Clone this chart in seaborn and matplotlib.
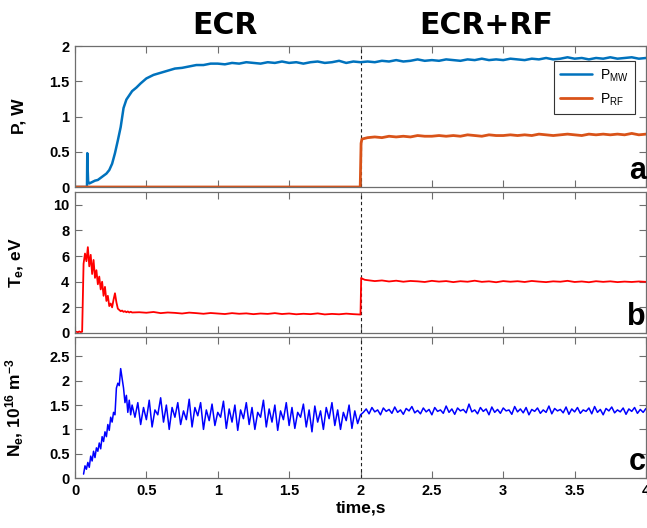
import numpy as np
import pandas as pd
import matplotlib
matplotlib.use("Agg")
import matplotlib.pyplot as plt
import seaborn as sns

# ---------------- data ----------------
# Panel a: microwave power P_MW
t_pmw_start = [0.0, 0.084, 0.086, 0.088, 0.092, 0.10, 0.12, 0.14, 0.16, 0.18,
               0.20, 0.22, 0.24, 0.26, 0.28, 0.30, 0.32, 0.34, 0.36, 0.38,
               0.40, 0.43, 0.46, 0.50, 0.55, 0.60, 0.65, 0.70, 0.75, 0.80,
               0.85, 0.90, 0.95, 1.00]
p_mw_start = [0.0, 0.0, 0.48, 0.30, 0.08, 0.05, 0.07, 0.09, 0.10, 0.13,
              0.16, 0.19, 0.24, 0.33, 0.48, 0.66, 0.85, 1.12, 1.24, 1.30,
              1.36, 1.41, 1.47, 1.54, 1.59, 1.62, 1.65, 1.68, 1.69, 1.71,
              1.73, 1.73, 1.75, 1.75]
p_mw_rest = [1.74, 1.76, 1.75, 1.77, 1.76, 1.75, 1.77, 1.76, 1.78, 1.76,
             1.77, 1.75, 1.77, 1.78, 1.76, 1.77, 1.79, 1.76, 1.78, 1.77,
             1.78, 1.77, 1.79, 1.78, 1.80, 1.78, 1.79, 1.81, 1.79, 1.80,
             1.79, 1.81, 1.80, 1.79, 1.81, 1.80, 1.82, 1.80, 1.81, 1.80,
             1.82, 1.81, 1.80, 1.82, 1.81, 1.83, 1.81, 1.82, 1.84, 1.82,
             1.83, 1.81, 1.83, 1.82, 1.84, 1.82, 1.83, 1.84, 1.82, 1.83]  # 1.05..4.00

# Panel a: RF power P_RF
t_prf_start = [0.0, 1.998, 2.004, 2.01, 2.03]
p_rf_start = [0.0, 0.0, 0.62, 0.68, 0.69]
p_rf_rest = [0.70, 0.71, 0.70, 0.72, 0.71, 0.72, 0.71, 0.73, 0.72, 0.72,
             0.73, 0.72, 0.73, 0.72, 0.74, 0.73, 0.72, 0.74, 0.73, 0.73,
             0.74, 0.73, 0.74, 0.73, 0.75, 0.74, 0.73, 0.74, 0.75, 0.74,
             0.73, 0.75, 0.74, 0.75, 0.74, 0.75, 0.74, 0.76, 0.74, 0.75]  # 2.05..4.00

# Panel b: electron temperature T_e
te_a = [0.08, 0.10, 0.06, 0.12, 0.07, 0.10,
        5.4, 6.2, 5.6, 6.7, 5.2, 6.1, 4.6, 5.7, 4.3, 4.9,
        3.8, 4.4, 3.4, 4.0, 2.9, 3.6, 2.5, 2.9, 2.1, 2.3,
        2.0, 2.6, 3.1, 2.4, 1.9, 1.8, 1.7, 1.75, 1.65, 1.7,
        1.62, 1.68, 1.6, 1.66, 1.6]                      # 0.00..0.40
te_b = [1.62, 1.58, 1.64, 1.55, 1.60, 1.57, 1.52, 1.59, 1.55, 1.50,
        1.56, 1.52, 1.48, 1.55, 1.50, 1.53, 1.47, 1.52, 1.49, 1.55,
        1.48, 1.52, 1.46, 1.50, 1.47, 1.53, 1.45, 1.49, 1.46, 1.51,
        1.47, 1.44]                                      # 0.45..2.00
t_te_jump = [2.005, 2.01, 2.03]
te_jump = [4.3, 4.25, 4.15]
te_d = [4.12, 4.05, 4.10, 4.02, 4.08, 4.00, 4.06, 4.03, 3.98, 4.07,
        4.01, 4.05, 3.97, 4.04, 4.00, 4.08, 3.99, 4.03, 3.96, 4.05,
        4.00, 4.04, 3.98, 4.06, 4.01, 3.97, 4.03, 4.00, 4.07, 3.98,
        4.02, 3.96, 4.04, 3.99, 4.03, 3.97, 4.01, 3.98, 4.02, 3.99]  # 2.05..4.00

# Panel c: electron density N_e
ne_a = [0.08, 0.25, 0.18, 0.32, 0.22, 0.45, 0.35, 0.55, 0.42, 0.62,
        0.55, 0.72, 0.60, 0.85, 0.75, 0.95, 0.85, 1.10, 0.98, 1.25,
        1.15, 1.35, 1.30, 1.85, 1.95, 1.90, 2.25, 2.05, 1.85, 1.55,
        1.70, 1.35, 1.60, 1.30, 1.50]                    # 0.06..0.40
ne_b = [1.25, 1.55, 1.10, 1.45, 1.20, 1.60, 1.05, 1.40, 1.30, 1.65,
        1.15, 1.50, 1.00, 1.45, 1.25, 1.55, 1.10, 1.38, 1.20, 1.62,
        1.05, 1.45, 1.28, 1.55, 1.00, 1.40, 1.18, 1.52, 1.08, 1.35,
        1.25, 1.58, 1.02, 1.42, 1.15, 1.50, 0.98, 1.40, 1.22, 1.55,
        1.10, 1.45, 1.00, 1.35, 1.25, 1.60, 1.05, 1.42, 1.15, 1.50,
        0.98, 1.38, 1.20, 1.55, 1.08, 1.45, 1.02, 1.35, 1.25, 1.52,
        1.05, 1.40, 0.95, 1.48, 1.15, 1.38, 1.00, 1.45, 1.22, 1.55,
        1.08, 1.40, 1.00, 1.35, 1.18, 1.50, 1.02, 1.38, 1.12, 1.30]  # 0.42..2.00
ne_c = [1.35, 1.42, 1.32, 1.45, 1.36, 1.40, 1.30, 1.44, 1.37, 1.41,
        1.33, 1.46, 1.35, 1.40, 1.31, 1.43, 1.38, 1.47, 1.34, 1.39,
        1.32, 1.44, 1.36, 1.41, 1.30, 1.45, 1.37, 1.40, 1.33, 1.48,
        1.35, 1.42, 1.31, 1.44, 1.38, 1.41, 1.34, 1.52, 1.36, 1.40,
        1.32, 1.45, 1.37, 1.42, 1.30, 1.46, 1.35, 1.41, 1.33, 1.44,
        1.38, 1.40, 1.31, 1.47, 1.36, 1.42, 1.34, 1.45, 1.30, 1.41,
        1.37, 1.44, 1.33, 1.40, 1.35, 1.48, 1.32, 1.43, 1.38, 1.41,
        1.34, 1.46, 1.31, 1.42, 1.36, 1.45, 1.33, 1.40, 1.37, 1.44,
        1.32, 1.47, 1.35, 1.41, 1.30, 1.43, 1.38, 1.46, 1.34, 1.40,
        1.36, 1.44, 1.31, 1.42, 1.37, 1.45, 1.33, 1.41, 1.35, 1.43]  # 2.02..4.00

x_ticks = [0, 0.5, 1, 1.5, 2, 2.5, 3, 3.5, 4]
x_tick_labels = ["0", "0.5", "1", "1.5", "2", "2.5", "3", "3.5", "4"]
ya_ticks = [0, 0.5, 1, 1.5, 2]
ya_labels = ["0", "0.5", "1", "1.5", "2"]
yb_ticks = [0, 2, 4, 6, 8, 10]
yb_labels = ["0", "2", "4", "6", "8", "10"]
yc_ticks = [0, 0.5, 1, 1.5, 2, 2.5]
yc_labels = ["0", "0.5", "1", "1.5", "2", "2.5"]
headers = ["ECR", "ECR+RF"]
panel_tags = ["a", "b", "c"]

# ---------------- tables ----------------
def grid(start, stop, n):
    return list(np.round(np.linspace(start, stop, n), 4))

df_mw = pd.DataFrame({"t": t_pmw_start + grid(1.05, 4.0, len(p_mw_rest)),
                      "v": p_mw_start + p_mw_rest})
df_rf = pd.DataFrame({"t": t_prf_start + grid(2.05, 4.0, len(p_rf_rest)),
                      "v": p_rf_start + p_rf_rest})
df_te = pd.DataFrame({"t": grid(0.0, 0.40, len(te_a)) + grid(0.45, 2.0, len(te_b))
                      + t_te_jump + grid(2.05, 4.0, len(te_d)),
                      "v": te_a + te_b + te_jump + te_d})
df_ne = pd.DataFrame({"t": grid(0.06, 0.40, len(ne_a)) + grid(0.42, 2.0, len(ne_b))
                      + grid(2.02, 4.0, len(ne_c)),
                      "v": ne_a + ne_b + ne_c})

# ---------------- style ----------------
sns.set_style("ticks")
plt.rcParams["font.family"] = ["Liberation Sans", "DejaVu Sans"]
plt.rcParams["font.weight"] = "bold"
plt.rcParams["axes.labelweight"] = "bold"
plt.rcParams["mathtext.default"] = "regular"
plt.rcParams["text.color"] = "black"
plt.rcParams["axes.labelcolor"] = "black"
plt.rcParams["xtick.labelcolor"] = "black"
plt.rcParams["ytick.labelcolor"] = "black"

W, H = 647, 528
fig = plt.figure(figsize=(W / 100, H / 100), dpi=100)
left = 75 / W
width = 646 / W - left
panels_px = [(46, 187), (192, 333), (337, 478)]
axes = []
for top, bot in panels_px:
    axes.append(fig.add_axes([left, 1 - bot / H, width, (bot - top) / H]))

ax_a, ax_b, ax_c = axes

sns.lineplot(data=df_mw, x="t", y="v", ax=ax_a, color="#0072BD", lw=1.8,
             estimator=None, sort=False, label=r"P$_{MW}$")
sns.lineplot(data=df_rf, x="t", y="v", ax=ax_a, color="#D95319", lw=2.0,
             estimator=None, sort=False, label=r"P$_{RF}$")
sns.lineplot(data=df_te, x="t", y="v", ax=ax_b, color="#FF0000", lw=1.3,
             estimator=None, sort=False)
sns.lineplot(data=df_ne, x="t", y="v", ax=ax_c, color="#0000FF", lw=1.1,
             estimator=None, sort=False)

ylims = [(0, 2.0), (0, 11), (0, 2.9)]
yticks = [(ya_ticks, ya_labels), (yb_ticks, yb_labels), (yc_ticks, yc_labels)]
ylabels = ["P, W", r"T$_{e}$, eV", r"N$_{e}$, 10$^{16}$ m$^{-3}$"]

for i, ax in enumerate(axes):
    ax.set_xlim(0, 4)
    ax.set_ylim(*ylims[i])
    ax.set_xticks(x_ticks)
    ax.set_yticks(yticks[i][0])
    ax.set_yticklabels(yticks[i][1])
    ax.axvline(2, color="#222222", lw=0.8, ls=(0, (3, 2.5)), zorder=1)
    for s in ax.spines.values():
        s.set_visible(True)
        s.set_color("#6e6e6e")
        s.set_linewidth(0.9)
    ax.tick_params(direction="in", top=True, right=True, length=5,
                   color="#6e6e6e", labelcolor="black", labelsize=10.5, pad=4)
    ax.set_ylabel(ylabels[i], fontsize=12.5, fontweight="bold", color="black")
    ax.yaxis.set_label_coords(-0.085, 0.5)
    ax.text(1.0, 0.06, panel_tags[i], transform=ax.transAxes, ha="right",
            va="baseline", fontsize=22, fontweight="bold", color="black",
            family="Liberation Sans")
    if i < 2:
        ax.set_xticklabels([])
        ax.set_xlabel("")
    else:
        ax.set_xticklabels(x_tick_labels)
        ax.set_xlabel("time,s", fontsize=12.5, fontweight="bold", labelpad=2,
                      color="black")

leg = ax_a.legend(loc="upper right", bbox_to_anchor=(0.981, 0.894),
                  borderaxespad=0, fancybox=False, framealpha=1,
                  edgecolor="#333333",
                  prop={"weight": "normal", "size": 10},
                  handlelength=2.3, borderpad=0.45, labelspacing=0.55,
                  handletextpad=0.6)
leg.get_frame().set_linewidth(0.8)

fig.text(225 / W, 1 - 26 / H, headers[0], ha="center", va="center",
         fontsize=21.5, fontweight="bold", family="DejaVu Sans", color="black")
fig.text(486 / W, 1 - 26 / H, headers[1], ha="center", va="center",
         fontsize=21.5, fontweight="bold", family="DejaVu Sans", color="black")

fig.savefig("out.png", dpi=100)
